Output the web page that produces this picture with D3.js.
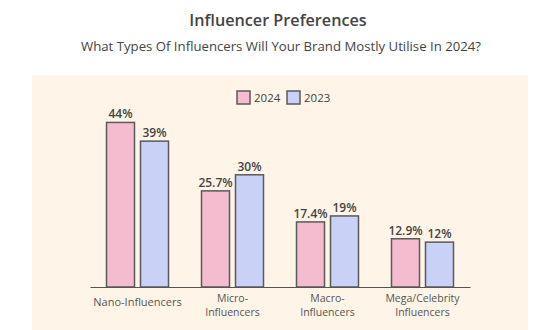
<!DOCTYPE html>
<html>
<head>
<meta charset="utf-8">
<script src="https://cdn.jsdelivr.net/npm/d3@7"></script>
<style>
  html, body { margin: 0; padding: 0; background: #ffffff; }
  svg { display: block; font-family: "Open Sans", "Noto Sans", sans-serif; }
</style>
</head>
<body>
<svg id="chart" width="553" height="330"></svg>
<script>
const categories = ["Nano-Influencers", "Micro-\nInfluencers", "Macro-\nInfluencers", "Mega/Celebrity\nInfluencers"];
const seriesNames = ["2024", "2023"];
const values2024 = [44, 25.7, 17.4, 12.9];
const values2023 = [39, 30, 19, 12];
const valueLabels2024 = ["44%", "25.7%", "17.4%", "12.9%"];
const valueLabels2023 = ["39%", "30%", "19%", "12%"];
const colors = ["#f5bcd0", "#c9d1f7"];

const svg = d3.select("#chart");

// panel
svg.append("rect").attr("x", 32).attr("y", 75).attr("width", 496).attr("height", 260).attr("fill", "#fef5e8");

// title
svg.append("text").attr("x", 278).attr("y", 26).attr("text-anchor", "middle")
  .attr("font-size", 16.2).attr("font-weight", 600).attr("fill", "#444").text("Influencer Preferences");
svg.append("text").attr("x", 281).attr("y", 51).attr("text-anchor", "middle")
  .attr("font-size", 13.2).attr("fill", "#444").text("What Types Of Influencers Will Your Brand Mostly Utilise In 2024?");

const x0 = d3.scaleBand().domain(d3.range(categories.length)).range([90, 470]).padding(0);
const x1 = d3.scaleBand().domain(seriesNames).range([16.5, 78.5]).paddingInner(6 / 34);
const y = d3.scaleLinear().domain([0, 50]).range([287, 100]);

const data = categories.map((c, i) => ({
  i, cat: c,
  vals: [
    { s: "2024", v: values2024[i], label: valueLabels2024[i], color: colors[0] },
    { s: "2023", v: values2023[i], label: valueLabels2023[i], color: colors[1] }
  ]
}));

const g = svg.append("g");
const groups = g.selectAll("g.grp").data(data).join("g")
  .attr("transform", d => `translate(${x0(d.i)},0)`);

groups.selectAll("rect").data(d => d.vals).join("rect")
  .attr("x", d => x1(d.s))
  .attr("y", d => y(d.v))
  .attr("width", x1.bandwidth())
  .attr("height", d => y(0) - y(d.v))
  .attr("fill", d => d.color)
  .attr("stroke", "#5a5a5a")
  .attr("stroke-width", 1.5);

groups.selectAll("text.val").data(d => d.vals).join("text")
  .attr("class", "val")
  .attr("x", d => x1(d.s) + x1.bandwidth() / 2)
  .attr("y", d => y(d.v) - 4)
  .attr("text-anchor", "middle")
  .attr("font-size", 12)
  .attr("font-weight", 600)
  .attr("fill", "#444")
  .text(d => d.label);

// axis
const axis = d3.axisBottom(x0).tickSize(0).tickFormat("");
const ax = svg.append("g").attr("transform", "translate(0,287)").call(axis);
ax.select(".domain").attr("stroke", "#555").attr("stroke-width", 1.2);

// category labels
groups.each(function(d) {
  const lines = d.cat.split("\n");
  const t = d3.select(this).append("text")
    .attr("text-anchor", "middle")
    .attr("font-size", 10.5)
    .attr("fill", "#555");
  const cx = x0.bandwidth() / 2;
  if (lines.length === 1) {
    t.attr("font-size", 11);
    t.append("tspan").attr("x", cx).attr("y", 306).text(lines[0]);
  } else {
    lines.forEach((l, k) => t.append("tspan").attr("x", cx).attr("y", 301.8 + k * 14.5).text(l));
  }
});

// legend
const legend = svg.append("g");
const legX = [237, 287];
seriesNames.forEach((s, k) => {
  legend.append("rect").attr("x", legX[k]).attr("y", 91).attr("width", 13).attr("height", 13)
    .attr("fill", colors[k]).attr("stroke", "#5a5a5a").attr("stroke-width", 1.5);
  legend.append("text").attr("x", legX[k] + 17).attr("y", 102).attr("font-size", 11.5)
    .attr("fill", "#444").text(s);
});
</script>
</body>
</html>
